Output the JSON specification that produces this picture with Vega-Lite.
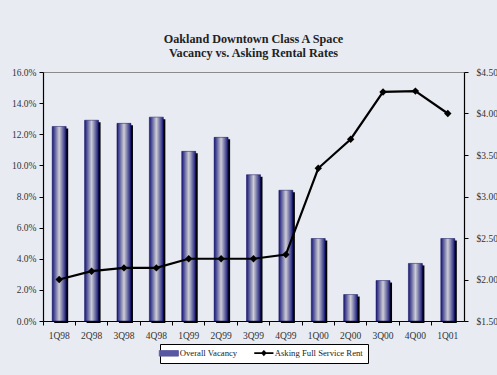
{
  "$schema": "https://vega.github.io/schema/vega-lite/v6.json",
  "width": 421,
  "height": 249,
  "autosize": {"type": "none"},
  "padding": {"left": 43, "top": 72, "right": 33, "bottom": 54},
  "background": "#E8EBF2",
  "title": {
    "text": ["Oakland Downtown Class A Space", "Vacancy vs. Asking Rental Rates"],
    "font": "Liberation Serif",
    "fontSize": 12.2,
    "fontWeight": "bold",
    "color": "#222222",
    "lineHeight": 13.5,
    "offset": 8,
    "anchor": "middle"
  },
  "config": {
    "view": {"stroke": "#8a8a8a", "strokeWidth": 1},
    "axis": {
      "labelFont": "Liberation Serif",
      "labelFontSize": 9.5,
      "labelColor": "#333333",
      "domainColor": "#000000",
      "tickColor": "#000000",
      "grid": false,
      "title": null
    }
  },
  "data": {
    "values": [
      {"q": "1Q98", "vacancy": 0.125, "rent": 2.00},
      {"q": "2Q98", "vacancy": 0.129, "rent": 2.10},
      {"q": "3Q98", "vacancy": 0.127, "rent": 2.14},
      {"q": "4Q98", "vacancy": 0.131, "rent": 2.14},
      {"q": "1Q99", "vacancy": 0.109, "rent": 2.25},
      {"q": "2Q99", "vacancy": 0.118, "rent": 2.25},
      {"q": "3Q99", "vacancy": 0.094, "rent": 2.25},
      {"q": "4Q99", "vacancy": 0.084, "rent": 2.30},
      {"q": "1Q00", "vacancy": 0.053, "rent": 3.34},
      {"q": "2Q00", "vacancy": 0.017, "rent": 3.69},
      {"q": "3Q00", "vacancy": 0.026, "rent": 4.26},
      {"q": "4Q00", "vacancy": 0.037, "rent": 4.27},
      {"q": "1Q01", "vacancy": 0.053, "rent": 4.00}
    ]
  },
  "encoding": {
    "x": {
      "field": "q",
      "type": "nominal",
      "sort": null,
      "scale": {"paddingInner": 0, "paddingOuter": 0},
      "axis": {
        "labelAngle": 0,
        "bandPosition": 0,
        "tickSize": 4,
        "labelPadding": 5,
        "domainWidth": 1.2
      }
    }
  },
  "layer": [
    {
      "encoding": {
        "y": {
          "field": "vacancy",
          "type": "quantitative",
          "scale": {"domain": [0, 0.16], "nice": false, "zero": true},
          "axis": {
            "orient": "left",
            "values": [0, 0.02, 0.04, 0.06, 0.08, 0.1, 0.12, 0.14, 0.16],
            "format": ".1%",
            "tickSize": 4,
            "labelPadding": 3,
            "domainWidth": 1.2
          }
        }
      },
      "layer": [
        {
          "mark": {"type": "bar", "size": 14, "xOffset": 2, "yOffset": 2, "fill": "#000000"}
        },
        {
          "mark": {
            "type": "bar",
            "size": 14,
            "fill": {
              "gradient": "linear",
              "x1": 0, "y1": 0, "x2": 1, "y2": 0,
              "stops": [
                {"offset": 0, "color": "#151578"},
                {"offset": 0.5, "color": "#cdcdd5"},
                {"offset": 1, "color": "#151578"}
              ]
            },
            "stroke": "#10105a",
            "strokeWidth": 0.5
          }
        }
      ]
    },
    {
      "mark": {
        "type": "line",
        "strokeWidth": 2.2,
        "point": {"shape": "diamond", "size": 55, "filled": true, "fill": "#000000", "opacity": 1}
      },
      "encoding": {
        "y": {
          "field": "rent",
          "type": "quantitative",
          "scale": {"domain": [1.5, 4.5], "nice": false, "zero": false},
          "axis": {
            "orient": "right",
            "values": [1.5, 2, 2.5, 3, 3.5, 4, 4.5],
            "format": "$.2f",
            "tickSize": 4,
            "labelPadding": 8,
            "domainWidth": 1.2
          }
        },
        "color": {
          "datum": "Asking Full Service Rent",
          "scale": {
            "domain": ["Overall Vacancy", "Asking Full Service Rent"],
            "range": ["#5858a2", "#000000"]
          },
          "legend": {
            "orient": "none",
            "legendX": 117,
            "legendY": 272,
            "direction": "horizontal",
            "title": null,
            "strokeColor": "#000000",
            "fillColor": "#FFFFFF",
            "padding": 4.5,
            "labelFont": "Liberation Serif",
            "labelFontSize": 8.7,
            "labelColor": "#222222",
            "symbolSize": 64,
            "labelOffset": 6.5,
            "columnPadding": 13,
            "encode": {
              "symbols": {
                "update": {
                  "shape": {"signal": "datum.value === 'Overall Vacancy' ? 'M-2.4,-0.7H2.4V0.7H-2.4Z' : 'M-2.4,0H2.4M0,-0.5L0.45,0L0,0.5L-0.45,0Z'"},
                  "fill": {"signal": "datum.value === 'Overall Vacancy' ? '#5858a2' : '#000000'"},
                  "fillOpacity": {"value": 1},
                  "stroke": {"signal": "datum.value === 'Overall Vacancy' ? '#151560' : '#000000'"},
                  "strokeWidth": {"signal": "datum.value === 'Overall Vacancy' ? 0.8 : 1.6"},
                  "opacity": {"value": 1}
                }
              }
            }
          }
        }
      }
    }
  ],
  "resolve": {"scale": {"y": "independent"}}
}
